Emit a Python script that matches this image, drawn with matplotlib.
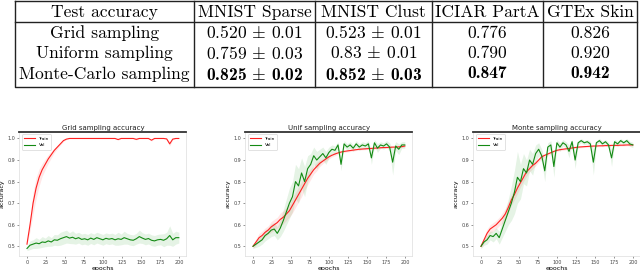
import numpy as np
import matplotlib
matplotlib.use("Agg")
from matplotlib import pyplot as plt

plt.rcParams["mathtext.fontset"] = "cm"

# ---- table data ----
col_labels = ["Test accuracy", "MNIST Sparse", "MNIST Clust", "ICIAR PartA", "GTEx Skin"]
row_labels = ["Grid sampling", "Uniform sampling", "Monte-Carlo sampling"]
mnist_sparse = [("0.520", "0.01"), ("0.759", "0.03"), ("0.825", "0.02")]
mnist_clust = [("0.523", "0.01"), ("0.83", "0.01"), ("0.852", "0.03")]
iciar = ["0.776", "0.790", "0.847"]
gtex = ["0.826", "0.920", "0.942"]
best_row = 2

# ---- curve data (sampled every 4 epochs) ----
epochs = list(range(0, 201, 4))

grid_train = [0.51, 0.60, 0.70, 0.77, 0.82, 0.855, 0.88, 0.905, 0.925, 0.945,
              0.96, 0.975, 0.99, 0.997, 1.0, 1.0, 1.0, 1.0, 1.0, 1.0,
              1.0, 1.0, 1.0, 1.0, 1.0, 1.0, 1.0, 1.0, 1.0, 1.0,
              0.995, 1.0, 1.0, 1.0, 1.0, 1.0, 0.996, 1.0, 1.0, 1.0,
              1.0, 0.992, 1.0, 1.0, 1.0, 1.0, 0.998, 0.975, 0.997, 1.0, 1.0]
grid_train_sd = [0.0, 0.03, 0.05, 0.05, 0.04, 0.03, 0.025, 0.02, 0.015, 0.01,
                 0.008, 0.006, 0.004, 0.002, 0.001, 0.001, 0.001, 0.001, 0.001, 0.001,
                 0.001, 0.001, 0.001, 0.001, 0.001, 0.001, 0.001, 0.001, 0.001, 0.001,
                 0.003, 0.001, 0.001, 0.001, 0.001, 0.001, 0.003, 0.001, 0.001, 0.001,
                 0.001, 0.004, 0.001, 0.001, 0.001, 0.001, 0.002, 0.01, 0.003, 0.001, 0.001]
grid_val = [0.49, 0.505, 0.51, 0.515, 0.512, 0.52, 0.518, 0.525, 0.52, 0.53,
            0.528, 0.535, 0.54, 0.545, 0.538, 0.542, 0.535, 0.54, 0.532, 0.535,
            0.53, 0.538, 0.532, 0.54, 0.535, 0.53, 0.537, 0.533, 0.536, 0.53,
            0.535, 0.532, 0.54, 0.535, 0.53, 0.528, 0.535, 0.545, 0.538, 0.532,
            0.536, 0.528, 0.525, 0.53, 0.532, 0.528, 0.535, 0.55, 0.53, 0.54, 0.54]
grid_val_sd = [0.01, 0.02, 0.02, 0.025, 0.02, 0.025, 0.02, 0.025, 0.02, 0.025,
               0.025, 0.03, 0.03, 0.03, 0.025, 0.03, 0.025, 0.025, 0.025, 0.025,
               0.025, 0.025, 0.025, 0.025, 0.025, 0.025, 0.025, 0.025, 0.025, 0.025,
               0.03, 0.025, 0.03, 0.025, 0.025, 0.025, 0.025, 0.03, 0.025, 0.025,
               0.025, 0.025, 0.025, 0.025, 0.025, 0.03, 0.03, 0.045, 0.03, 0.03, 0.025]

unif_train = [0.50, 0.52, 0.54, 0.55, 0.565, 0.575, 0.59, 0.60, 0.61, 0.625,
              0.635, 0.65, 0.665, 0.69, 0.715, 0.74, 0.765, 0.79, 0.815, 0.835,
              0.855, 0.87, 0.885, 0.895, 0.905, 0.915, 0.922, 0.928, 0.933, 0.937,
              0.94, 0.942, 0.944, 0.946, 0.948, 0.95, 0.951, 0.952, 0.953, 0.954,
              0.955, 0.956, 0.957, 0.958, 0.958, 0.959, 0.96, 0.96, 0.961, 0.962, 0.965]
unif_train_sd = [0.01, 0.015, 0.02, 0.02, 0.02, 0.02, 0.025, 0.025, 0.025, 0.03,
                 0.03, 0.03, 0.03, 0.035, 0.035, 0.035, 0.035, 0.03, 0.03, 0.025,
                 0.02, 0.02, 0.015, 0.012, 0.01, 0.01, 0.008, 0.008, 0.006, 0.006,
                 0.005, 0.005, 0.005, 0.004, 0.004, 0.004, 0.004, 0.004, 0.004, 0.004,
                 0.004, 0.004, 0.004, 0.004, 0.004, 0.004, 0.004, 0.004, 0.004, 0.004, 0.004]
unif_val = [0.50, 0.51, 0.52, 0.53, 0.55, 0.56, 0.575, 0.58, 0.56, 0.585,
            0.62, 0.66, 0.70, 0.73, 0.80, 0.78, 0.84, 0.80, 0.86, 0.88,
            0.92, 0.90, 0.915, 0.93, 0.91, 0.935, 0.95, 0.945, 0.97, 0.88,
            0.975, 0.96, 0.97, 0.955, 0.975, 0.96, 0.97, 0.965, 0.975, 0.91,
            0.98, 0.955, 0.97, 0.965, 0.975, 0.96, 0.89, 0.965, 0.95, 0.97, 0.97]
unif_val_sd = [0.01, 0.015, 0.02, 0.02, 0.025, 0.025, 0.03, 0.03, 0.03, 0.04,
               0.05, 0.06, 0.07, 0.07, 0.08, 0.08, 0.07, 0.07, 0.06, 0.05,
               0.04, 0.04, 0.035, 0.03, 0.03, 0.025, 0.02, 0.02, 0.015, 0.03,
               0.015, 0.015, 0.015, 0.015, 0.015, 0.015, 0.015, 0.015, 0.015, 0.03,
               0.015, 0.02, 0.015, 0.015, 0.015, 0.02, 0.06, 0.02, 0.025, 0.015, 0.015]

monte_train = [0.50, 0.53, 0.56, 0.58, 0.59, 0.60, 0.615, 0.63, 0.65, 0.68,
               0.715, 0.74, 0.77, 0.795, 0.82, 0.845, 0.86, 0.875, 0.885, 0.90,
               0.915, 0.922, 0.928, 0.934, 0.94, 0.945, 0.948, 0.95, 0.952, 0.954,
               0.956, 0.958, 0.96, 0.961, 0.962, 0.963, 0.964, 0.965, 0.965, 0.966,
               0.966, 0.967, 0.967, 0.968, 0.968, 0.968, 0.969, 0.969, 0.97, 0.97, 0.97]
monte_train_sd = [0.01, 0.015, 0.02, 0.02, 0.02, 0.02, 0.02, 0.025, 0.025, 0.025,
                  0.025, 0.025, 0.025, 0.02, 0.02, 0.02, 0.015, 0.015, 0.012, 0.01,
                  0.01, 0.008, 0.008, 0.006, 0.006, 0.005, 0.005, 0.005, 0.005, 0.004,
                  0.004, 0.004, 0.004, 0.004, 0.004, 0.004, 0.004, 0.004, 0.004, 0.004,
                  0.004, 0.004, 0.004, 0.004, 0.004, 0.004, 0.004, 0.004, 0.004, 0.004, 0.004]
monte_val = [0.50, 0.52, 0.53, 0.55, 0.545, 0.56, 0.54, 0.58, 0.62, 0.66,
             0.70, 0.75, 0.82, 0.80, 0.86, 0.84, 0.90, 0.88, 0.93, 0.95,
             0.92, 0.85, 0.96, 0.97, 0.87, 0.98, 0.96, 0.98, 0.97, 0.94,
             0.985, 0.90, 0.98, 0.99, 0.98, 0.985, 0.975, 0.89, 0.98, 0.99,
             0.975, 0.985, 0.97, 0.91, 0.985, 0.975, 0.99, 0.98, 0.99, 0.975, 0.97]
monte_val_sd = [0.01, 0.015, 0.02, 0.02, 0.025, 0.025, 0.03, 0.04, 0.05, 0.06,
                0.08, 0.10, 0.12, 0.08, 0.07, 0.06, 0.05, 0.05, 0.04, 0.03,
                0.03, 0.05, 0.02, 0.02, 0.05, 0.015, 0.02, 0.015, 0.015, 0.03,
                0.01, 0.04, 0.01, 0.01, 0.01, 0.01, 0.012, 0.06, 0.01, 0.01,
                0.012, 0.01, 0.012, 0.04, 0.01, 0.012, 0.01, 0.01, 0.01, 0.012, 0.012]

panels = [
    ("Grid sampling accuracy", grid_train, grid_train_sd, grid_val, grid_val_sd),
    ("Unif sampling accuracy", unif_train, unif_train_sd, unif_val, unif_val_sd),
    ("Monte sampling accuracy", monte_train, monte_train_sd, monte_val, monte_val_sd),
]

W, H = 640, 270
fig = plt.figure(figsize=(W / 100, H / 100), dpi=100)

# ---- table, drawn in pixel coordinates ----
tab = fig.add_axes([0, 0, 1, 1])
tab.set_xlim(0, W)
tab.set_ylim(H, 0)
tab.axis("off")

col_edges = [15, 194, 315, 432, 543, 637]
top, header_bottom, bottom = 1, 22, 87
row_centers = [33, 53.5, 74]
line_kw = dict(color="#222222", lw=1.0)

tab.plot([col_edges[0], col_edges[-1], col_edges[-1], col_edges[0], col_edges[0]],
         [top, top, bottom, bottom, top], **line_kw)
tab.plot([col_edges[0], col_edges[-1]], [header_bottom, header_bottom], **line_kw)
for x in col_edges[1:-1]:
    tab.plot([x, x], [top, bottom], **line_kw)

centers = [(a + b) / 2 for a, b in zip(col_edges[:-1], col_edges[1:])]
fs = 12.6
for c, lab in zip(centers, col_labels):
    tab.text(c, 12, lab, ha="center", va="center", fontsize=fs, family="cmr10")

for i, y in enumerate(row_centers):
    fam = "cmb10" if i == best_row else "cmr10"
    tab.text(centers[0], y, row_labels[i], ha="center", va="center",
             fontsize=fs, family="cmr10")
    for c, (m, s) in zip(centers[1:3], [mnist_sparse[i], mnist_clust[i]]):
        tab.text(c, y, m + r" $\pm$ " + s, ha="center", va="center",
                 fontsize=fs, family=fam)
    tab.text(centers[3], y, iciar[i], ha="center", va="center", fontsize=fs, family=fam)
    tab.text(centers[4], y, gtex[i], ha="center", va="center", fontsize=fs, family=fam)

# ---- training curves ----
ax_left = [19.4, 245.4, 473.4]
ax_w = 167
ax_top, ax_bot = 132, 256

for k, (title, tr, tr_sd, va, va_sd) in enumerate(panels):
    ax = fig.add_axes([ax_left[k] / W, 1 - ax_bot / H, ax_w / W, (ax_bot - ax_top) / H])
    ep = np.array(epochs)
    tr, tr_sd = np.array(tr), np.array(tr_sd)
    va, va_sd = np.array(va), np.array(va_sd)
    ax.fill_between(ep, tr - tr_sd, tr + tr_sd, color="#ff4040", alpha=0.12, lw=0)
    ax.fill_between(ep, va - va_sd, va + va_sd, color="#2ca02c", alpha=0.12, lw=0)
    ax.plot(ep, tr, color="#ff2020", lw=0.8, label="Train")
    ax.plot(ep, va, color="#138a13", lw=0.8, label="Val")
    ax.set_xlim(-10, 210)
    ax.set_ylim(0.455, 1.03)
    ax.set_xticks([0, 25, 50, 75, 100, 125, 150, 175, 200])
    ax.set_yticks([0.5, 0.6, 0.7, 0.8, 0.9, 1.0])
    ax.tick_params(labelsize=3.5, length=1.5, width=0.4, pad=1.5, colors="#444444")
    for side in ["left", "right", "bottom"]:
        ax.spines[side].set_color("#dddddd")
        ax.spines[side].set_linewidth(0.5)
    ax.spines["top"].set_color("#333333")
    ax.spines["top"].set_linewidth(1.3)
    ax.set_title(title, fontsize=5, pad=1.5, color="#222222")
    ax.set_xlabel("epochs", fontsize=4.5, labelpad=0.5)
    ax.set_ylabel("accuracy", fontsize=4.5, labelpad=2)
    leg = ax.legend(loc="upper left", fontsize=3.2, handlelength=2.5,
                    borderpad=0.5, labelspacing=0.6, framealpha=1)
    leg.get_frame().set_linewidth(0.4)
    leg.get_frame().set_edgecolor("#cccccc")

fig.savefig("out.png", dpi=100)
